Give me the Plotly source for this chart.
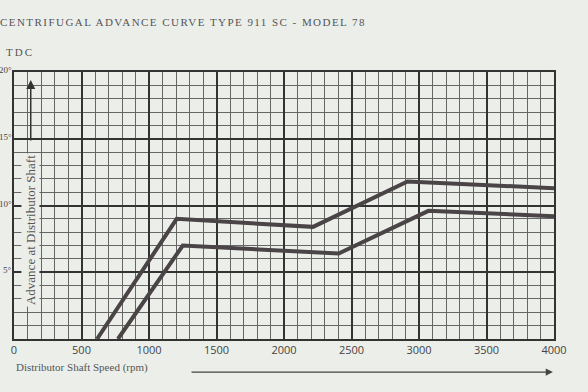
import plotly.graph_objects as go

# Data (rpm, degrees)
upper_rpm = [615, 1205, 2215, 2915, 4000]
upper_deg = [0, 9.0, 8.4, 11.8, 11.3]
lower_rpm = [770, 1250, 2405, 3070, 4000]
lower_deg = [0, 7.0, 6.4, 9.6, 9.2]

x_ticks = [0, 500, 1000, 1500, 2000, 2500, 3000, 3500, 4000]
y_ticks = [5, 10, 15, 20]
y_labels = ["5°", "10°", "15°", "20°"]

line_color = "#4b4446"
bg = "#eceeea"

fig = go.Figure()
for xs, ys in [(upper_rpm, upper_deg), (lower_rpm, lower_deg)]:
    fig.add_trace(go.Scatter(x=xs, y=ys, mode="lines",
                             line=dict(color=line_color, width=4),
                             showlegend=False, hoverinfo="skip", cliponaxis=True))

annotations = [
    dict(text='<span style="letter-spacing:1.45px">CENTRIFUGAL ADVANCE CURVE TYPE 911 SC - MODEL 78</span>',
         xref="x domain", yref="y domain", x=-0.03, y=1.187, xanchor="left", yanchor="middle",
         showarrow=False, font=dict(family="Liberation Serif", size=11, color="#555")),
    dict(text='<span style="letter-spacing:2px">TDC</span>', xref="x domain", yref="y domain",
         x=-0.019, y=1.075, xanchor="left",
         yanchor="middle", showarrow=False,
         font=dict(family="Liberation Serif", size=11, color="#555")),
    dict(text="Advance at Distributor Shaft", xref="x domain", yref="y domain",
         x=0.0296, y=0.408, textangle=-90, showarrow=False, xanchor="center",
         yanchor="middle",
         font=dict(family="Liberation Serif", size=13, color="#555"), bgcolor=bg),
    dict(text="Distributor Shaft Speed (rpm)", xref="x domain", yref="y domain",
         x=0.0, y=-0.105, xanchor="left", yanchor="middle", showarrow=False,
         font=dict(family="Liberation Serif", size=11, color="#555")),
    dict(x=0.031, y=0.97, ax=0.031, ay=0.738, xref="x domain", yref="y domain",
         axref="x domain", ayref="y domain", text="", showarrow=True,
         arrowhead=2, arrowsize=1.2, arrowwidth=1.5, arrowcolor="#333"),
    dict(x=0.998, y=-0.124, ax=0.326, ay=-0.124, xref="x domain", yref="y domain",
         axref="x domain", ayref="y domain", text="", showarrow=True,
         arrowhead=2, arrowsize=1.2, arrowwidth=1.2, arrowcolor="#444"),
]
# y-axis tick labels placed on the y scale at the left page edge
for v, lab in zip(y_ticks, y_labels):
    annotations.append(dict(text=lab, xref="paper", yref="y", x=0, xshift=-1, y=v, yshift=2,
                            xanchor="right", yanchor="middle", showarrow=False, borderpad=0,
                            font=dict(family="Liberation Serif", size=9, color="#444")))

fig.update_layout(
    width=588, height=392,
    margin=dict(l=14, r=34, t=72, b=53),
    paper_bgcolor=bg, plot_bgcolor=bg,
    showlegend=False,
    xaxis=dict(range=[0, 4000], tickvals=x_ticks, ticktext=[str(v) for v in x_ticks],
               showgrid=True, gridcolor="#333333", gridwidth=1.5,
               minor=dict(dtick=100, showgrid=True, gridcolor="#666666", gridwidth=1),
               showline=True, linecolor="#333", linewidth=2, mirror=True,
               zeroline=False, ticks="", automargin=False,
               tickfont=dict(family="Open Sans", size=11, color="#444")),
    yaxis=dict(range=[0, 20], tickvals=y_ticks, showticklabels=False,
               showgrid=True, gridcolor="#333333", gridwidth=1.5,
               minor=dict(dtick=1, showgrid=True, gridcolor="#666666", gridwidth=1),
               showline=True, linecolor="#333", linewidth=2, mirror=True,
               zeroline=False, ticks="", automargin=False),
    annotations=annotations,
)

fig.write_html("out.html", config={"displayModeBar": False},
               post_script="document.body.style.margin='0';document.body.style.overflow='hidden';")
